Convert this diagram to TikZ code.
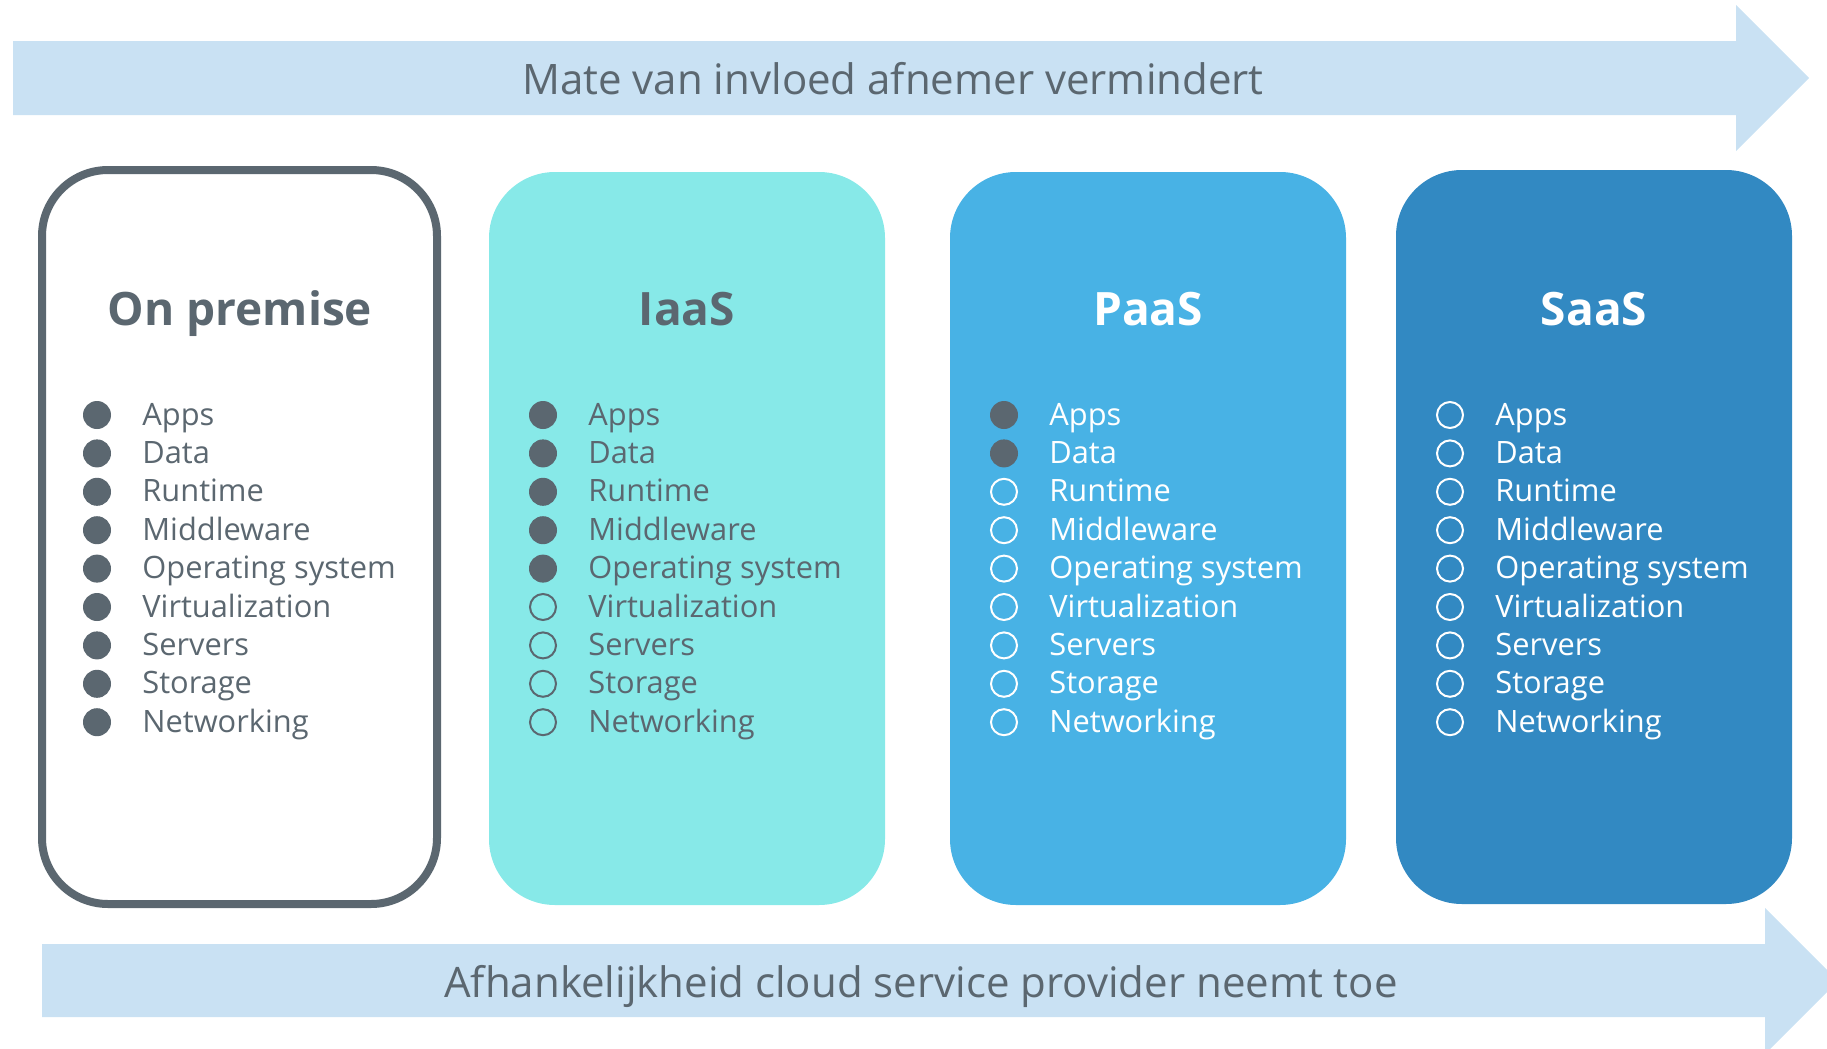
\documentclass[tikz,border=0pt]{standalone}
\usepackage{fontspec}
\setmainfont{Open Sans}

\definecolor{bandblue}{HTML}{C9E1F3}
\definecolor{slate}{HTML}{5B6770}
\definecolor{iaascyan}{HTML}{87E9E8}
\definecolor{paasblue}{HTML}{48B2E5}
\definecolor{saasblue}{HTML}{3289C2}

\tikzset{
  column/.style={rounded corners=33pt},
  coltitle/.style={font=\bfseries\fontsize{23}{27}\selectfont, anchor=base, inner sep=0pt},
  item/.style={font=\fontsize{15.4}{18}\selectfont, anchor=base west, inner sep=0pt},
  bandtext/.style={font=\fontsize{21}{25}\selectfont, text=slate, anchor=base, inner sep=0pt},
}

\begin{document}
\begin{tikzpicture}[x=0.5pt,y=-0.5pt]
  \useasboundingbox (0,0) rectangle (1827,1049);
  \clip (0,0) rectangle (1827,1049);

  % Arrows
  \fill[bandblue] (13,41) -- (1736,41) -- (1736,5) -- (1809,78) -- (1736,151)
    -- (1736,115) -- (13,115) -- cycle;
  \fill[bandblue] (42,944) -- (1765,944) -- (1765,908) -- (1838,981) -- (1765,1054)
    -- (1765,1017) -- (42,1017) -- cycle;
  \node[bandtext] (influence) at (893,94) {Mate van invloed afnemer vermindert};
  \node[bandtext] (dependency) at (921,997) {Afhankelijkheid cloud service provider neemt toe};

  % Columns
  \draw[column,slate,line width=4pt,fill=white] (42,170) rectangle (437,904);
  \fill[column,iaascyan] (489,172) rectangle (885,905);
  \fill[column,paasblue] (950,172) rectangle (1346,905);
  \fill[column,saasblue] (1396,170) rectangle (1792,904);

  % Titles
  \node[coltitle,text=slate] (onprem) at (240,325) {On premise};
  \node[coltitle,text=slate] (iaas) at (687,325) {IaaS};
  \node[coltitle,text=white] (paas) at (1148,325) {PaaS};
  \node[coltitle,text=white] (saas) at (1594,325) {SaaS};

  % Items: filled = managed by the customer
  \foreach \col/\bx/\nfill/\tcol in {onprem/97/9/slate, iaas/543/5/slate,
      paas/1004/2/white, saas/1450/0/white} {
    \foreach \entry [count=\i] in {Apps,Data,Runtime,Middleware,Operating system,
        Virtualization,Servers,Storage,Networking} {
      \pgfmathsetmacro{\yb}{425+38.4*(\i-1)}
      \ifnum\i>\nfill
        \draw[\tcol,line width=1pt] (\bx,\yb-10) circle[radius=13];
      \else
        \fill[slate] (\bx,\yb-10) circle[radius=14];
      \fi
      \node[item,text=\tcol] (\col-\i) at (\bx+45,\yb) {\entry};
    }
  }
\end{tikzpicture}
\end{document}
